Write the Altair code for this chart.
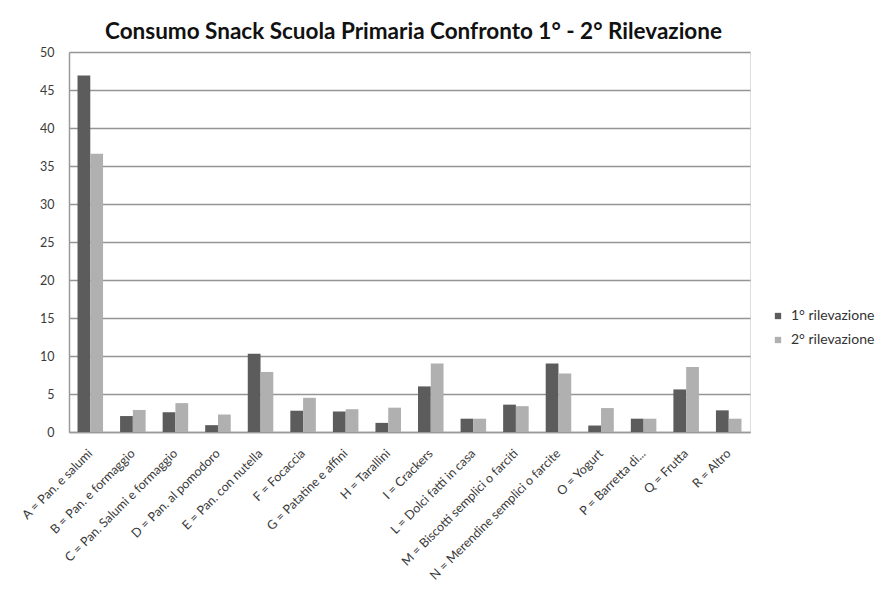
import altair as alt
import pandas as pd

categories = [
    "A = Pan. e salumi",
    "B = Pan. e formaggio",
    "C = Pan. Salumi e formaggio",
    "D = Pan. al pomodoro",
    "E = Pan. con nutella",
    "F = Focaccia",
    "G = Patatine e  affini",
    "H = Tarallini",
    "I = Crackers",
    "L = Dolci fatti in casa",
    "M = Biscotti semplici o farciti",
    "N = Merendine semplici o farcite",
    "O = Yogurt",
    "P = Barretta di...",
    "Q = Frutta",
    "R = Altro",
]
series = ["1° rilevazione", "2° rilevazione"]
first_survey = [46.9, 2.1, 2.6, 0.9, 10.3, 2.8, 2.7, 1.2, 6.0, 1.75, 3.6, 9.0, 0.85, 1.75, 5.6, 2.85]
second_survey = [36.6, 2.9, 3.8, 2.3, 7.9, 4.5, 3.0, 3.2, 9.0, 1.75, 3.4, 7.7, 3.15, 1.75, 8.55, 1.75]

rows = []
for cat, v1, v2 in zip(categories, first_survey, second_survey):
    rows.append({"cat": cat, "serie": series[0], "val": v1})
    rows.append({"cat": cat, "serie": series[1], "val": v2})
df = pd.DataFrame(rows)

FONT = "Lato"

chart = (
    alt.Chart(df)
    .mark_bar()
    .encode(
        x=alt.X(
            "cat:N",
            sort=categories,
            title=None,
            scale=alt.Scale(paddingInner=0.4, paddingOuter=0.2),
            axis=alt.Axis(
                labelAngle=-45,
                labelAlign="right",
                labelBaseline="middle",
                labelFontSize=12.5,
                labelColor="#3a3a3a",
                labelFont=FONT,
                labelPadding=19,
                ticks=False,
                domainColor="#9a9a9a",
                domainWidth=1.5,
                labelLimit=300,
            ),
        ),
        xOffset=alt.XOffset("serie:N", sort=series),
        y=alt.Y(
            "val:Q",
            title=None,
            scale=alt.Scale(domain=[0, 50], nice=False),
            axis=alt.Axis(
                values=list(range(0, 51, 5)),
                labelFontSize=12.5,
                labelColor="#3a3a3a",
                labelFont=FONT,
                labelPadding=15,
                ticks=False,
                grid=True,
                gridColor="#959595",
                gridWidth=1.5,
                domainColor="#9a9a9a",
                domainWidth=1.5,
            ),
        ),
        color=alt.Color(
            "serie:N",
            sort=series,
            scale=alt.Scale(domain=series, range=["#5c5c5c", "#b0b0b0"]),
            legend=alt.Legend(
                title=None,
                orient="none",
                legendX=702,
                legendY=257,
                symbolType="square",
                symbolSize=40,
                symbolStrokeWidth=0,
                labelFontSize=14,
                labelColor="#333333",
                labelFont=FONT,
                labelOffset=6,
                rowPadding=10,
            ),
        ),
    )
    .properties(
        width=681,
        height=380,
        padding={"left": 69, "top": 52, "right": 133, "bottom": 166},
        autosize=alt.AutoSizeParams(type="none"),
        title=alt.TitleParams(
            "Consumo Snack Scuola Primaria Confronto 1° - 2° Rilevazione",
            font=FONT,
            fontSize=22.5,
            fontWeight="bold",
            color="#111111",
            anchor="middle",
            dx=4,
            offset=3,
        ),
    )
    .configure_view(stroke=None)
    .configure(background="white")
)

chart.save("out.html", embed_options={"renderer": "svg", "actions": False})
